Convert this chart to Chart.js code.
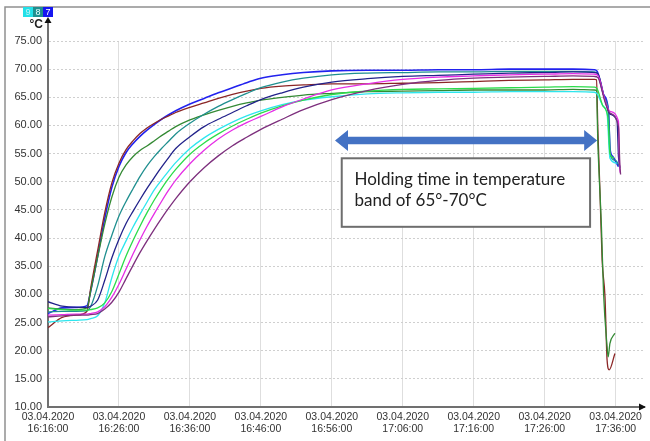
<!DOCTYPE html>
<html><head><meta charset="utf-8">
<script src="https://cdn.jsdelivr.net/npm/chart.js@4.4.1/dist/chart.umd.min.js"></script>
<style>html,body{margin:0;padding:0;background:#fff;}canvas{display:block;}</style>
</head><body>
<canvas id="c" width="650" height="441"></canvas>
<script>
// ---- data ----
const dateLabel = '03.04.2020';
const tickTimes = ['16:16:00','16:26:00','16:36:00','16:46:00','16:56:00','17:06:00','17:16:00','17:26:00','17:36:00'];
const legendIds = ['9','8','7'];
const noteLines = ['Holding time in temperature','band of 65°-70°C'];

// minutes after 16:16:00
const times = [0,2,4,5.5,6,7,8,9,10,11,12,13,14,15,16,17,18,20,22,24,26,28,30,33,36,40,45,50,55,60,65,70,74,77];

const blueV   = [26.6,27.6,27.7,28.0,30.5,36.8,43.5,49.0,52.7,55.2,56.8,58.1,59.2,60.2,61.1,61.9,62.6,63.8,64.8,65.8,66.7,67.6,68.4,69.0,69.4,69.7,69.8,69.8,69.9,69.9,70.0,70.0,70.0,69.9];
const brownV  = [24.1,25.9,26.3,27.0,31.0,37.8,44.5,49.8,53.3,55.7,57.3,58.6,59.6,60.4,61.1,61.7,62.3,63.2,64.0,64.8,65.5,66.1,66.6,67.0,67.2,67.4,67.4,67.5,67.6,67.8,68.0,68.1,68.2,68.2];
const dgreenV = [27.6,27.4,27.3,27.6,30.5,36.6,42.5,47.3,50.8,53.0,54.5,55.6,56.4,57.3,58.2,59.0,59.8,61.0,61.9,62.7,63.4,64.0,64.5,65.0,65.4,65.7,66.0,66.1,66.2,66.3,66.3,66.3,66.4,66.3];
const tealV   = [26.9,27.0,27.0,27.1,27.8,31.5,36.7,40.5,43.9,46.5,48.8,51.0,52.9,54.5,55.9,57.2,58.5,60.4,62.0,63.4,64.6,65.7,66.7,67.7,68.4,69.0,69.3,69.4,69.5,69.5,69.6,69.6,69.6,69.5];
const navyV   = [28.7,27.9,27.7,27.7,27.9,29.0,32.5,36.5,39.8,42.6,44.8,46.9,48.9,50.8,52.6,54.3,55.9,58.0,59.8,61.1,62.3,63.5,64.6,65.8,66.8,67.7,68.3,68.7,68.9,69.1,69.3,69.4,69.5,69.4];
const cyanV   = [25.1,25.3,25.4,25.5,25.7,26.2,28.5,33.0,36.8,39.5,42.0,44.3,46.5,48.6,50.3,51.9,53.4,55.9,57.8,59.3,60.6,61.7,62.6,63.7,64.5,65.1,65.6,65.8,65.9,65.9,66.0,66.0,66.0,65.9];
const limeV   = [27.5,27.3,27.2,27.2,27.3,27.6,28.5,30.5,33.6,36.8,39.6,42.2,44.6,46.8,48.8,50.6,52.2,54.9,56.9,58.5,59.9,61.1,62.2,63.5,64.5,65.5,66.1,66.4,66.5,66.6,66.7,66.8,66.9,66.8];
const magentaV= [26.3,26.4,26.5,26.5,26.6,26.9,27.8,29.5,31.8,34.5,37.2,39.8,42.2,44.4,46.5,48.5,50.3,53.2,55.6,57.6,59.2,60.5,61.6,63.3,64.7,66.3,67.4,68.2,68.6,68.8,69.0,69.1,69.2,69.1];
const purpleV = [26.0,26.2,26.3,26.3,26.4,26.6,27.4,28.6,30.4,32.8,35.2,37.5,39.6,41.6,43.5,45.3,47.0,50.0,52.5,54.6,56.4,57.9,59.3,61.1,62.8,64.6,66.2,67.3,68.0,68.4,68.6,68.7,68.8,68.7];

// end-of-run cool-down (minutes, °C)
const blueTailT = [77.4,78.3,79.0,79.2,79.6,80.4];        const blueTailV = [69.6,65.5,62.5,56.0,54.5,52.7];
const brownTailT = [77.3,77.5,77.8,78.1,78.5,78.8,79.1,79.9]; const brownTailV = [68.1,59.2,48.0,36.1,29.6,18.3,16.6,19.5];
const dgreenTailT = [77.3,77.5,78.0,78.3,78.8,78.95,79.2,79.9]; const dgreenTailV = [66.2,56.8,42.0,30.2,20.7,18.9,21.3,23.1];
const tealTailT = [77.4,78.4,79.0,79.3,80.0,80.6];        const tealTailV = [69.3,65.0,62.2,54.5,53.8,52.5];
const navyTailT = [77.5,78.5,79.2,80.2,80.4,80.6];        const navyTailV = [69.2,64.5,62.0,60.8,54.5,52.5];
const cyanTailT = [77.4,78.2,78.8,79.2,80.2];             const cyanTailV = [65.6,63.5,62.0,54.2,53.3];
const limeTailT = [77.4,78.2,78.9,79.2,79.8];             const limeTailV = [66.5,63.5,61.5,55.0,54.2];
const magentaTailT = [77.5,78.5,79.2,80.4,80.55,80.65];   const magentaTailV = [68.9,64.5,62.5,60.7,53.0,51.6];
const purpleTailT = [77.5,78.5,79.2,80.4,80.6,80.7];      const purpleTailV = [68.5,64.2,62.2,59.8,53.0,51.3];

// ---- build ----
function pts(vals, tt, tv){
  return times.map((t,i)=>({x:t,y:vals[i]})).concat(tt.map((t,i)=>({x:t,y:tv[i]})));
}
function ds(vals, tt, tv, color, w){
  return {data: pts(vals,tt,tv), borderColor: color, borderWidth: w||1.3, pointRadius:0, fill:false, cubicInterpolationMode:'monotone'};
}
const datasets = [
  ds(purpleV, purpleTailT, purpleTailV, '#7d2f7d'),
  ds(magentaV, magentaTailT, magentaTailV, '#e62ee6'),
  ds(limeV, limeTailT, limeTailV, '#2bdc4a'),
  ds(cyanV, cyanTailT, cyanTailV, '#2ee6ee'),
  ds(navyV, navyTailT, navyTailV, '#22228a'),
  ds(tealV, tealTailT, tealTailV, '#1f8f8f'),
  ds(dgreenV, dgreenTailT, dgreenTailV, '#348a34'),
  ds(brownV, brownTailT, brownTailV, '#8b2626'),
  ds(blueV, blueTailT, blueTailV, '#2222ee', 1.6)
];

const decor = {
  id:'decor',
  beforeDraw(chart){
    const ctx = chart.ctx;
    ctx.save();
    ctx.strokeStyle = '#909090'; ctx.lineWidth = 1.5;
    ctx.beginPath(); ctx.moveTo(5, 441); ctx.lineTo(5, 7); ctx.lineTo(650, 7); ctx.stroke();
    ctx.restore();
  },
  afterDatasetsDraw(chart){
    const {ctx, scales:{x, y}} = chart;
    ctx.save();
    // double arrow
    const xl = x.getPixelForValue(40.45), xr = x.getPixelForValue(77.4), yc = y.getPixelForValue(57.33);
    const hl = 13, hh = 10.5, sh = 3.7;
    ctx.fillStyle = '#4472c4';
    ctx.beginPath();
    ctx.moveTo(xl, yc);
    ctx.lineTo(xl+hl, yc-hh); ctx.lineTo(xl+hl, yc-sh);
    ctx.lineTo(xr-hl, yc-sh); ctx.lineTo(xr-hl, yc-hh);
    ctx.lineTo(xr, yc);
    ctx.lineTo(xr-hl, yc+hh); ctx.lineTo(xr-hl, yc+sh);
    ctx.lineTo(xl+hl, yc+sh); ctx.lineTo(xl+hl, yc+hh);
    ctx.closePath(); ctx.fill();
    // note box
    const bx1 = x.getPixelForValue(41.4), bx2 = x.getPixelForValue(76.4);
    const by1 = y.getPixelForValue(54.17), by2 = y.getPixelForValue(42.0);
    ctx.fillStyle = '#fff'; ctx.fillRect(bx1, by1, bx2-bx1, by2-by1);
    ctx.strokeStyle = '#6e6e6e'; ctx.lineWidth = 2; ctx.strokeRect(bx1, by1, bx2-bx1, by2-by1);
    ctx.fillStyle = '#222'; ctx.font = '17px Lato'; ctx.textBaseline = 'alphabetic'; ctx.textAlign = 'left';
    ctx.fillText(noteLines[0], x.getPixelForValue(43.2), y.getPixelForValue(49.42));
    ctx.fillText(noteLines[1], x.getPixelForValue(43.2), y.getPixelForValue(45.7));
    ctx.restore();
  },
  afterDraw(chart){
    const {ctx, chartArea:a} = chart;
    ctx.save();
    // y axis extension + arrow
    ctx.strokeStyle = '#707070'; ctx.lineWidth = 2;
    ctx.beginPath(); ctx.moveTo(a.left, a.top); ctx.lineTo(a.left, 22); ctx.stroke();
    ctx.beginPath(); ctx.moveTo(a.right, a.bottom); ctx.lineTo(640, a.bottom); ctx.stroke();
    ctx.fillStyle = '#111';
    ctx.beginPath(); ctx.moveTo(a.left, 17); ctx.lineTo(a.left-3.5, 23); ctx.lineTo(a.left+3.5, 23); ctx.closePath(); ctx.fill();
    ctx.beginPath(); ctx.moveTo(646, a.bottom); ctx.lineTo(639, a.bottom-3.5); ctx.lineTo(639, a.bottom+3.5); ctx.closePath(); ctx.fill();
    // unit
    ctx.font = 'bold 12px "Liberation Sans"'; ctx.textAlign = 'right'; ctx.textBaseline = 'alphabetic';
    ctx.fillStyle = '#222'; ctx.fillText('°C', 43, 28);
    // channel boxes
    const cols = ['#22e0e8','#1f8f8f','#1616f0'];
    const tcol = ['#b8f4f6','#e8ffff','#ffffff'];
    ctx.font = '9px "Liberation Sans"'; ctx.textAlign = 'center'; ctx.textBaseline = 'middle';
    legendIds.forEach((id,i)=>{
      ctx.fillStyle = cols[i]; ctx.fillRect(23+i*10, 7, 10, 10);
      ctx.fillStyle = tcol[i]; ctx.fillText(id, 28+i*10, 12.5);
    });
    ctx.restore();
  }
};

new Chart(document.getElementById('c'), {
  type:'line',
  data:{datasets},
  plugins:[decor],
  options:{
    responsive:false, animation:false, devicePixelRatio:1,
    layout:{padding:{top:41, right:6, left:0, bottom:0}},
    plugins:{legend:{display:false}, tooltip:{enabled:false}},
    scales:{
      x:{
        type:'linear', min:0, max:84,
        afterBuildTicks:(s)=>{ s.ticks = s.ticks.filter(t => t.value % 10 === 0 && t.value <= 80); },
        afterFit:(s)=>{ s.height = 34; },
        ticks:{stepSize:10, autoSkip:false, maxRotation:0, padding:4, color:'#333',
          font:{family:'"Liberation Sans"', size:10.5, lineHeight:1.15},
          callback:(v)=>[dateLabel, tickTimes[Math.round(v/10)]]},
        grid:{color:'#dedede', drawTicks:false},
        border:{color:'#707070', width:2}
      },
      y:{
        min:10, max:75,
        afterFit:(s)=>{ s.width = 48; },
        ticks:{stepSize:5, padding:6, color:'#333', font:{family:'"Liberation Sans"', size:11},
          callback:(v)=>v.toFixed(2)},
        grid:{color:'#cfcfcf', drawTicks:false},
        border:{color:'#707070', width:2, dash:[2,2]}
      }
    }
  }
});
</script>
</body></html>
